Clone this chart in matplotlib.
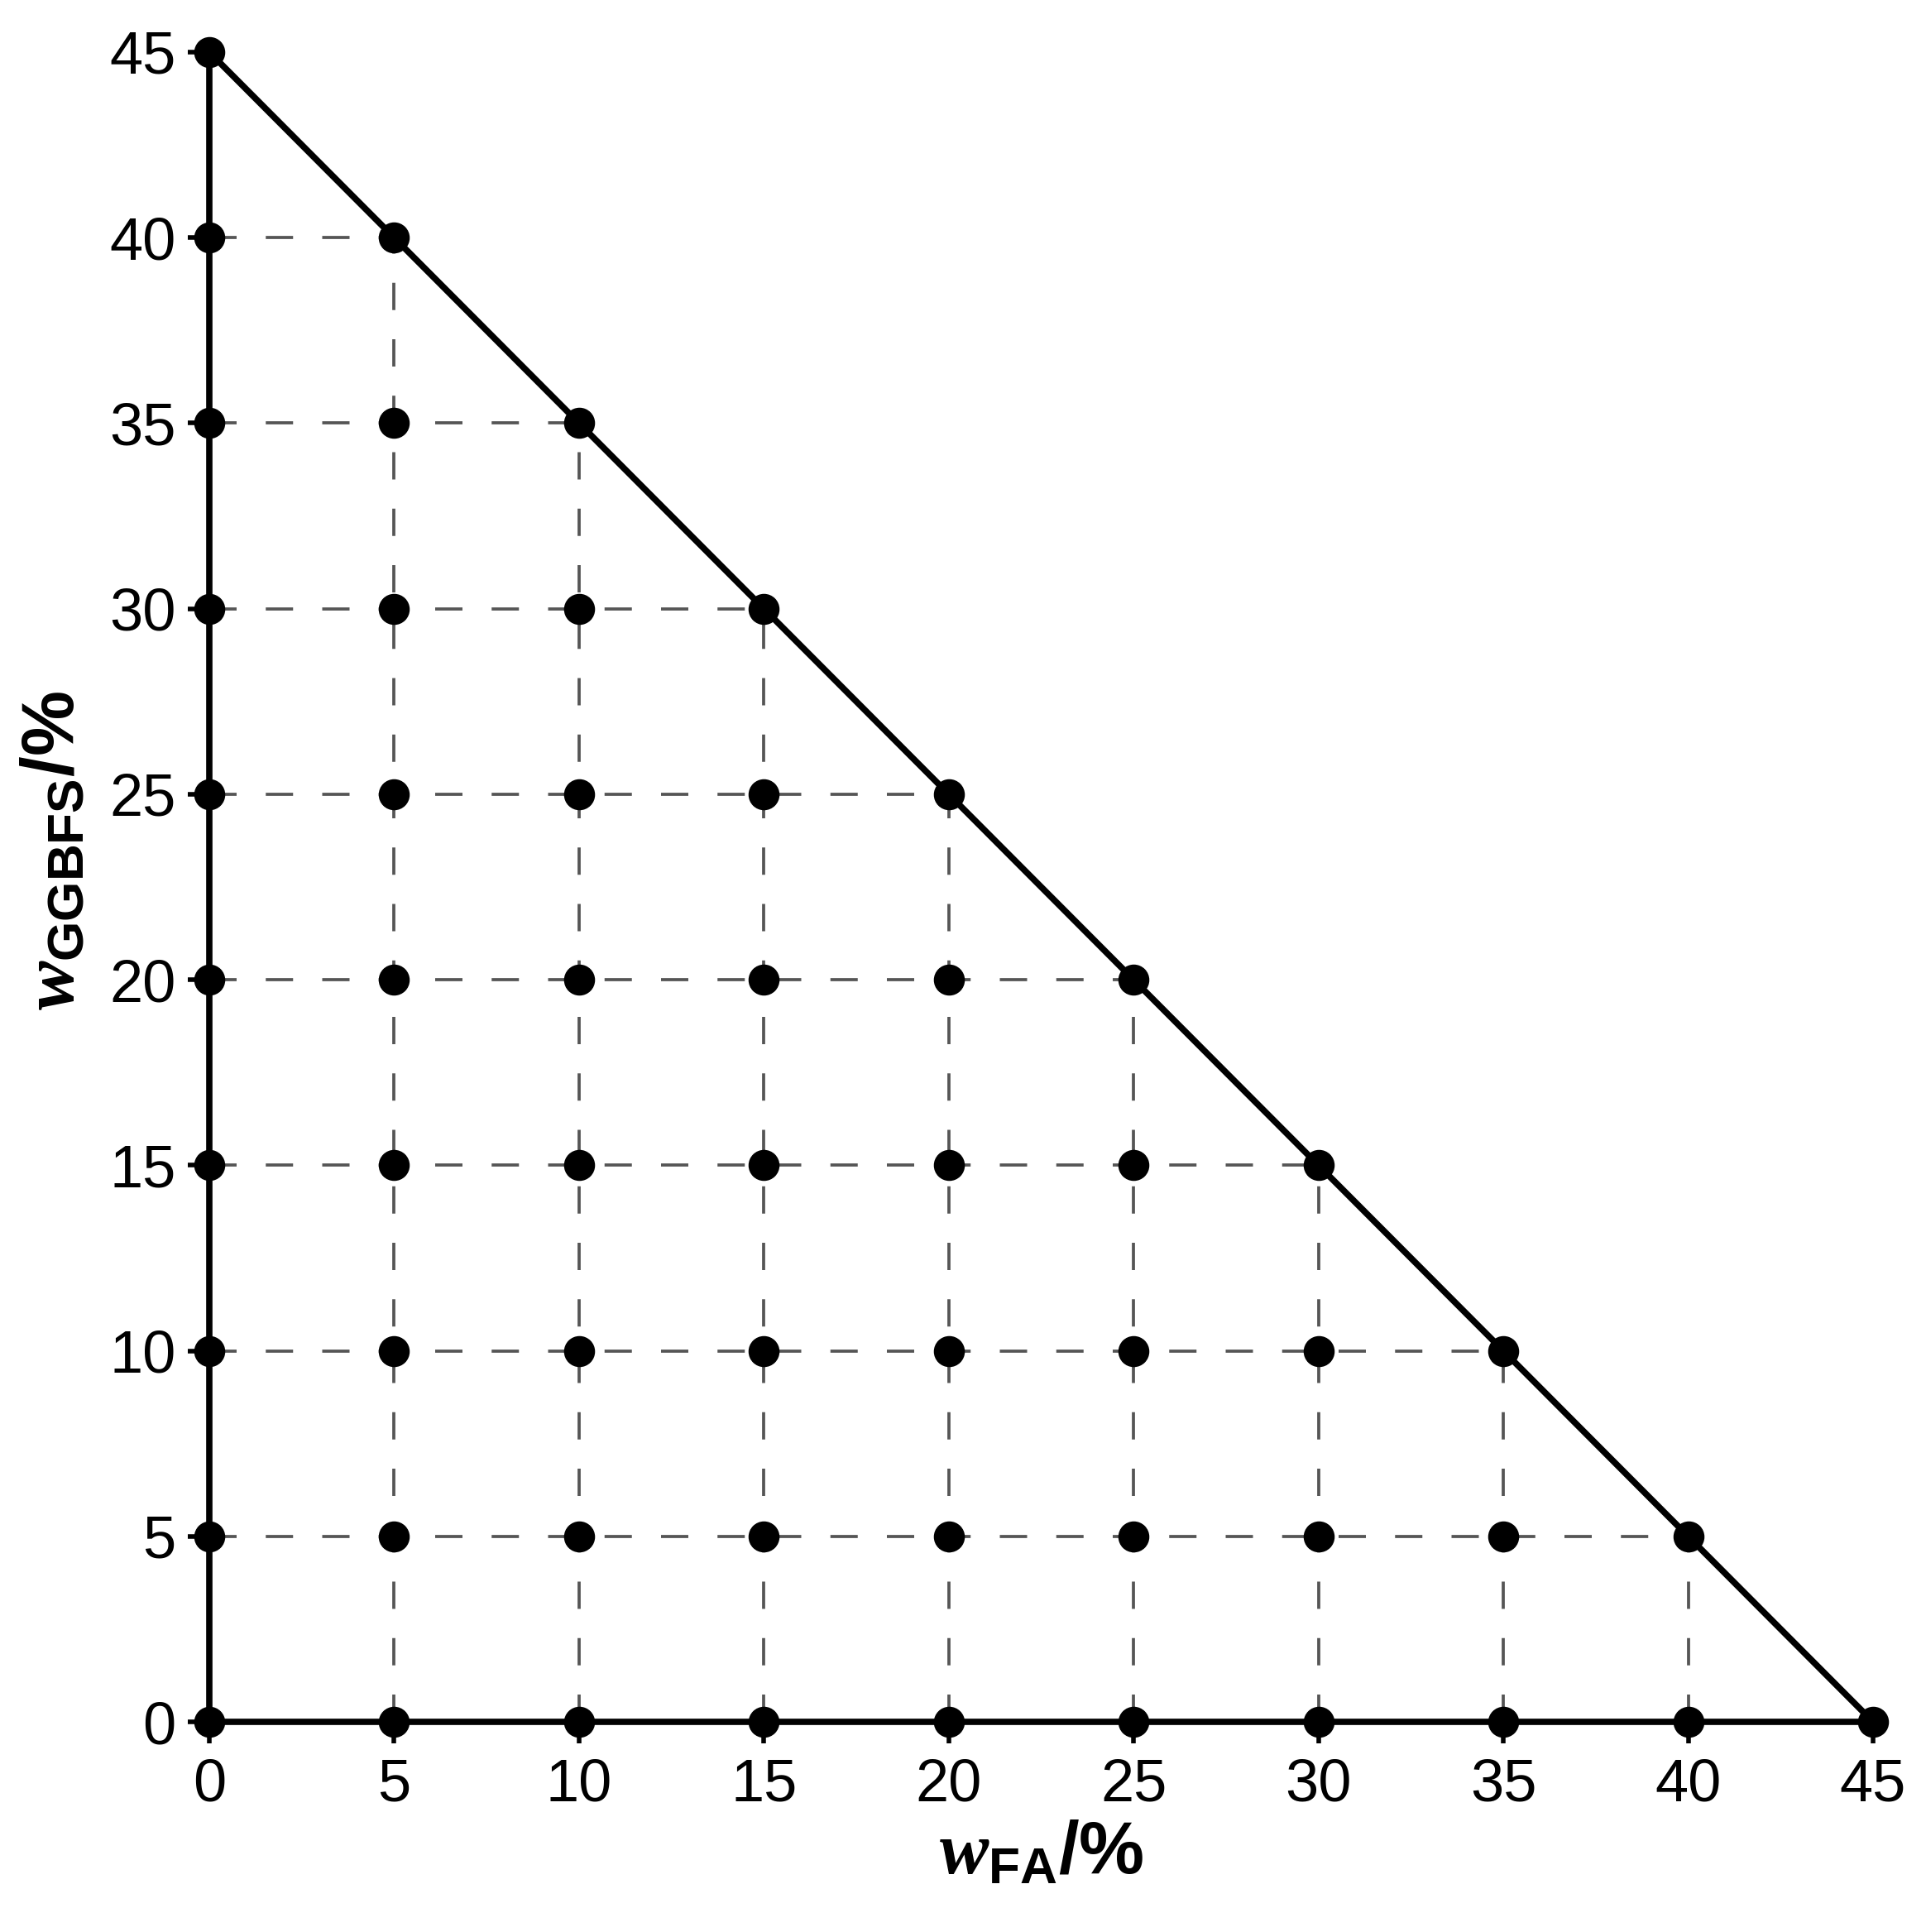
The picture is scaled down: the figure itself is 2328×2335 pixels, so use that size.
import matplotlib
matplotlib.use("Agg")
import matplotlib.pyplot as plt

# ---- data ----
# design points (w_FA, w_GGBFS) in %
fa_points = [0, 5, 10, 15, 20, 25, 30, 35, 40, 45,
             0, 5, 10, 15, 20, 25, 30, 35, 40,
             0, 5, 10, 15, 20, 25, 30, 35,
             0, 5, 10, 15, 20, 25, 30,
             0, 5, 10, 15, 20, 25,
             0, 5, 10, 15, 20,
             0, 5, 10, 15,
             0, 5, 10,
             0, 5,
             0]
ggbfs_points = [0, 0, 0, 0, 0, 0, 0, 0, 0, 0,
                5, 5, 5, 5, 5, 5, 5, 5, 5,
                10, 10, 10, 10, 10, 10, 10, 10,
                15, 15, 15, 15, 15, 15, 15,
                20, 20, 20, 20, 20, 20,
                25, 25, 25, 25, 25,
                30, 30, 30, 30,
                35, 35, 35,
                40, 40,
                45]
# boundary of the design region: w_FA + w_GGBFS = 45 %
limit_fa = [0, 45]
limit_ggbfs = [45, 0]
# guide levels and where each guide meets the boundary
guide_levels = [5, 10, 15, 20, 25, 30, 35, 40]
guide_ends = [40, 35, 30, 25, 20, 15, 10, 5]
tick_values = [0, 5, 10, 15, 20, 25, 30, 35, 40, 45]

# ---- style ----
plt.rcParams['mathtext.fontset'] = 'custom'
plt.rcParams['mathtext.rm'] = 'Liberation Sans:bold'
plt.rcParams['mathtext.it'] = 'Liberation Serif:bold:italic'
plt.rcParams['mathtext.bf'] = 'Liberation Sans:bold'
plt.rcParams['font.family'] = ['Liberation Sans', 'DejaVu Sans']

fig = plt.figure(figsize=(23.28, 23.35), dpi=100)
ax = fig.add_axes([253/2328, 1 - 2081/2335, (2264-253)/2328, (2081-63)/2335])

lw_main = 5.5
gcol = '#555555'
dash_lw = 2.7
dash_pat = (8.8, 9.4)
for lev, end in zip(guide_levels, guide_ends):
    ax.plot([0, end], [lev, lev], color=gcol, lw=dash_lw, dashes=dash_pat, zorder=2)
    ax.plot([lev, lev], [0, end], color=gcol, lw=dash_lw, dashes=dash_pat, zorder=2)

ax.plot(limit_fa, limit_ggbfs, color='black', lw=lw_main, zorder=3,
        solid_capstyle='round', clip_on=False)

ax.plot(fa_points, ggbfs_points, 'o', color='black', ms=26, zorder=5,
        clip_on=False)

ax.set_xlim(0, 45)
ax.set_ylim(0, 45)
ax.set_xticks(tick_values)
ax.set_yticks(tick_values)
ax.set_xticklabels([str(v) for v in tick_values])
ax.set_yticklabels([str(v) for v in tick_values])

for s in ['top', 'right']:
    ax.spines[s].set_visible(False)
for s in ['left', 'bottom']:
    ax.spines[s].set_linewidth(lw_main)
    ax.spines[s].set_zorder(3)

ax.tick_params(axis='both', direction='out', length=19, width=4, color='black',
               labelsize=52)
ax.tick_params(axis='x', pad=12)
ax.tick_params(axis='y', pad=10)

ax.set_xlabel(r'$w_{\mathrm{FA}}/\%$', fontsize=64, labelpad=6)
ax.set_ylabel(r'$w_{\mathrm{GGBFS}}/\%$', fontsize=64)
ax.yaxis.set_label_coords(-0.072, 0.522)

fig.savefig('out.png', dpi=100, facecolor='white')
